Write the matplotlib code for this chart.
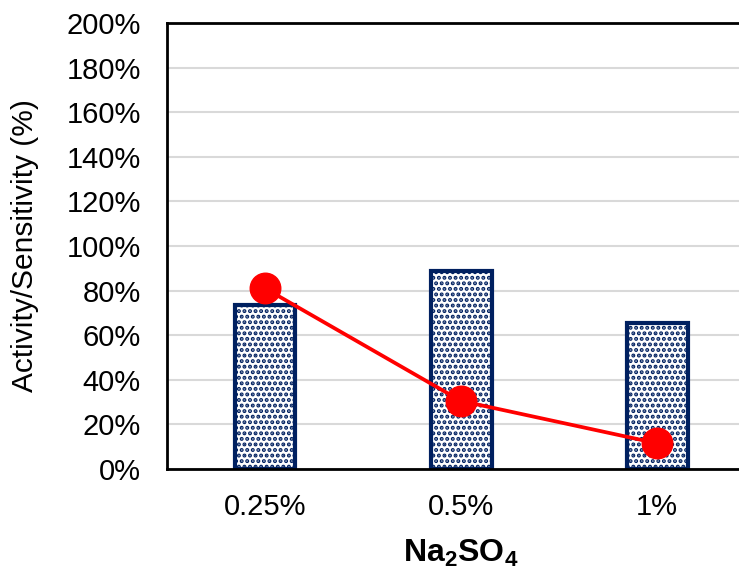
import matplotlib
matplotlib.use('Agg')
import matplotlib.pyplot as plt
from matplotlib.ticker import FuncFormatter

# data
categories = ['0.25%', '0.5%', '1%']
bar_values = [73.5, 89.0, 65.5]
line_values = [81.0, 30.5, 11.5]
yticks = list(range(0, 201, 20))

plt.rcParams['font.family'] = ['Liberation Sans', 'DejaVu Sans']
plt.rcParams['mathtext.fontset'] = 'custom'
plt.rcParams['mathtext.rm'] = 'Liberation Sans'
plt.rcParams['mathtext.bf'] = 'Liberation Sans:bold'
plt.rcParams['hatch.linewidth'] = 2.0

navy = '#002060'

fig = plt.figure(figsize=(7.39, 5.76), dpi=100)
# axes run past the right edge, like the cropped reference
ax = fig.add_axes([0.226, 0.1858, 0.796, 0.7742])

x = list(range(len(categories)))

ax.bar(x, bar_values, width=0.31, color='white', edgecolor=navy,
       linewidth=3.0, hatch='...', zorder=2)
ax.plot(x, line_values, color='#ff0000', linewidth=2.7, marker='o',
        markersize=22, markerfacecolor='#ff0000', markeredgecolor='#ff0000',
        zorder=3, clip_on=False)

ax.set_xlim(-0.5, 2.5)
ax.set_ylim(0, 200)
ax.set_yticks(yticks)
ax.yaxis.set_major_formatter(FuncFormatter(lambda v, p: '%d%%' % v))
ax.set_xticks(x)
ax.set_xticklabels(categories)

ax.grid(axis='y', color='#d9d9d9', linewidth=1.5, zorder=0)
ax.set_axisbelow(True)
for s in ax.spines.values():
    s.set_linewidth(2.0)
    s.set_color('black')

ax.tick_params(axis='both', length=0, labelsize=21)
ax.tick_params(axis='y', pad=19)
ax.tick_params(axis='x', pad=17)

ax.set_ylabel('Activity/Sensitivity (%)', fontsize=21.5)
ax.yaxis.set_label_coords(-0.217, 0.5)
ax.set_xlabel(r'$\mathbf{Na_2SO_4}$', fontsize=23)
ax.xaxis.set_label_coords(0.5, -0.155)

plt.savefig('out.png', dpi=100)
